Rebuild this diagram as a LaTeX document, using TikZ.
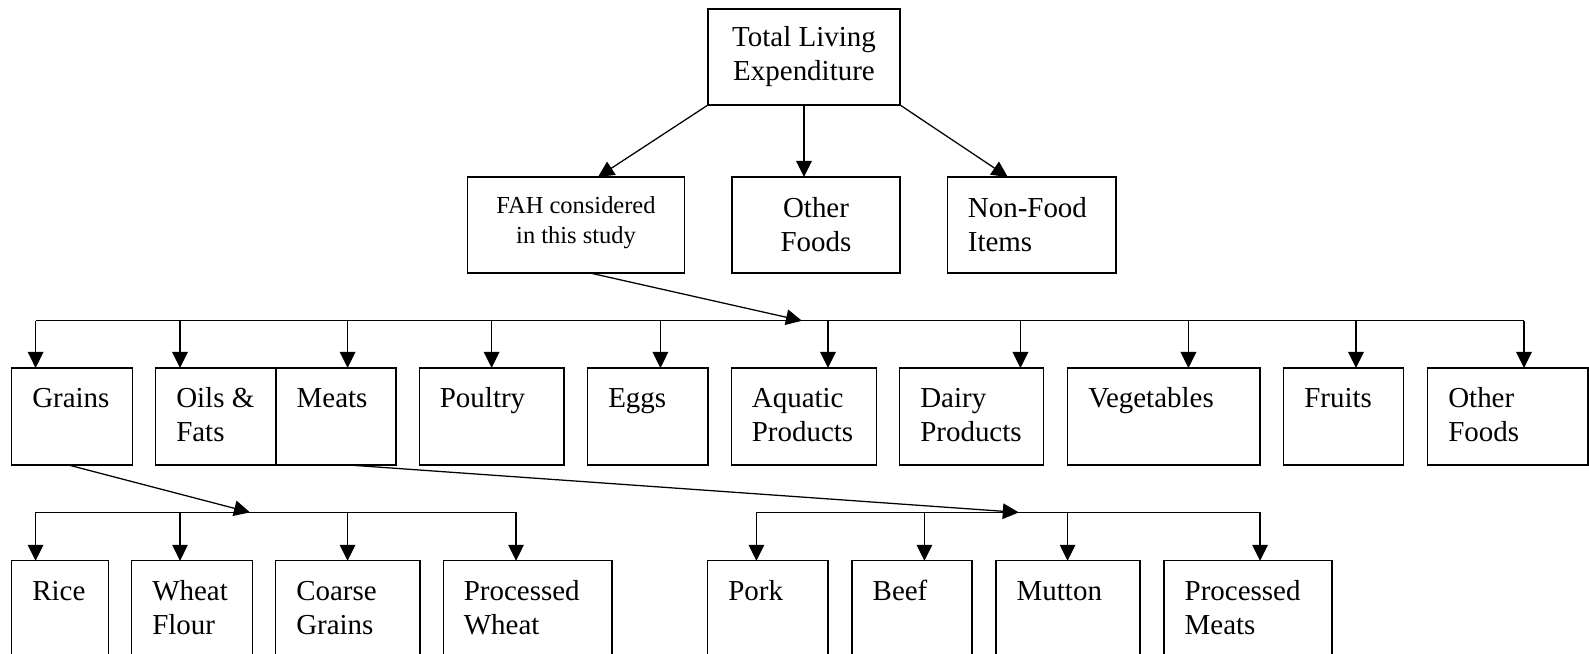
\documentclass[tikz,border=0pt]{standalone}
\usepackage{fontspec}
\setmainfont{Liberation Serif}
\usetikzlibrary{arrows.meta}

\tikzset{
    itembox/.style={draw, line width=0.95pt, inner sep=0, outer sep=0, anchor=north west},
    itemtext/.style={inner sep=0, anchor=north west, align=left, font=\fontsize{20.6}{24.2}\selectfont},
    toptext/.style={inner sep=0, align=center, font=\fontsize{20.6}{24.2}\selectfont},
    link/.style={line width=0.9pt},
    arr/.style={line width=0.9pt, -{Triangle[length=0.4cm,width=0.39cm]}}
}

% box with its text set top left: name, left, right, top, height, text
\newcommand\drawFoodBox[6]{
    \node[itembox, minimum width={(#3-#2)*1cm}, minimum height={#5*1cm}] (#1) at (#2,#4) {};
    \node[itemtext] (#1text) at ([xshift=0.51cm,yshift=-0.38cm]#1.north west) {\strut #6};
}

\begin{document}
\begin{tikzpicture}
        \useasboundingbox (0,0) rectangle (39.725,16.35);

        % top levels
        \node[itembox, minimum width=4.8cm, minimum height=2.4cm] (total) at (17.7,16.125) {};
        \node[toptext] (totaltext) at (total.center) {Total Living\\Expenditure};
        \node[itembox, minimum width=5.42cm, minimum height=2.4cm] (fah) at (11.69,11.925) {};
        \node[toptext, font=\fontsize{17.4}{21.3}\selectfont] (fahtext) at ([yshift=0.05cm]fah.center) {FAH considered\\in this study};
        \node[itembox, minimum width=4.2cm, minimum height=2.4cm] (otherexp) at (18.3,11.925) {};
        \node[toptext] (otherexptext) at (otherexp.center) {Other\\Foods};
        \node[itembox, minimum width=4.21cm, minimum height=2.4cm] (nonfood) at (23.69,11.925) {};
        \node[toptext, align=left, anchor=west] (nonfoodtext) at ([xshift=0.5cm]nonfood.west) {Non-Food\\Items};

        \draw[arr] (total.south west) -- ([xshift=0.55cm]fah.north);
        \draw[arr] (total.south) -- (total.south |- otherexp.north);
        \draw[arr] (total.south east) -- ([xshift=-0.6cm]nonfood.north);

        % food groups
        \drawFoodBox{grains}{0.29}{3.31}{7.15}{2.425}{Grains}
        \drawFoodBox{oils}{3.89}{6.9}{7.15}{2.425}{Oils \&\\Fats}
        \drawFoodBox{meats}{6.9}{9.9}{7.15}{2.425}{Meats}
        \drawFoodBox{poultry}{10.48}{14.1}{7.15}{2.425}{Poultry}
        \drawFoodBox{eggs}{14.69}{17.7}{7.15}{2.425}{Eggs}
        \drawFoodBox{aquatic}{18.28}{21.91}{7.15}{2.425}{Aquatic\\Products}
        \drawFoodBox{dairy}{22.49}{26.09}{7.15}{2.425}{Dairy\\Products}
        \drawFoodBox{veg}{26.69}{31.5}{7.15}{2.425}{Vegetables}
        \drawFoodBox{fruits}{32.09}{35.09}{7.15}{2.425}{Fruits}
        \drawFoodBox{others}{35.69}{39.7}{7.15}{2.425}{Other\\Foods}

        \coordinate (fahbus) at (20.05,8.33);
        \draw[arr] ([xshift=0.35cm]fah.south) -- (fahbus);
        \draw[link] (0.89,8.33) -- (38.1,8.33);
        \foreach \name/\dx in {grains/0.89,oils/4.5,meats/8.69,poultry/12.29,eggs/16.51,aquatic/20.7,dairy/25.51,veg/29.71,fruits/33.9,others/38.1}
        {
            \coordinate (b\name) at (\dx,8.33);
            \draw[arr] (b\name) -- (b\name |- \name.north);
        }

        % grains
        \drawFoodBox{rice}{0.29}{2.71}{2.33}{2.6}{Rice}
        \drawFoodBox{flour}{3.29}{6.31}{2.33}{2.6}{Wheat\\Flour}
        \drawFoodBox{coarse}{6.89}{10.5}{2.33}{2.6}{Coarse\\Grains}
        \drawFoodBox{pwheat}{11.08}{15.3}{2.33}{2.6}{Processed\\Wheat}

        \coordinate (grainbus) at (6.25,3.54);
        \draw[arr] ([xshift=-0.09cm]grains.south) -- (grainbus);
        \draw[link] (0.89,3.54) -- (12.9,3.54);

        % meats
        \drawFoodBox{pork}{17.69}{20.7}{2.33}{2.6}{Pork}
        \drawFoodBox{beef}{21.3}{24.3}{2.33}{2.6}{Beef}
        \drawFoodBox{mutton}{24.9}{28.5}{2.33}{2.6}{Mutton}
        \drawFoodBox{pmeat}{29.1}{33.3}{2.33}{2.6}{Processed\\Meats}

        \coordinate (meatbus) at (25.47,3.54);
        \draw[arr] ([xshift=0.31cm]meats.south) -- (meatbus);
        \draw[link] (18.91,3.54) -- (31.5,3.54);

        \foreach \name/\dx in {rice/0.89,flour/4.5,coarse/8.69,pwheat/12.9,pork/18.91,beef/23.11,mutton/26.69,pmeat/31.5}
        {
            \coordinate (b\name) at (\dx,3.54);
            \draw[arr] (b\name) -- (b\name |- \name.north);
        }
    \end{tikzpicture}
\end{document}
